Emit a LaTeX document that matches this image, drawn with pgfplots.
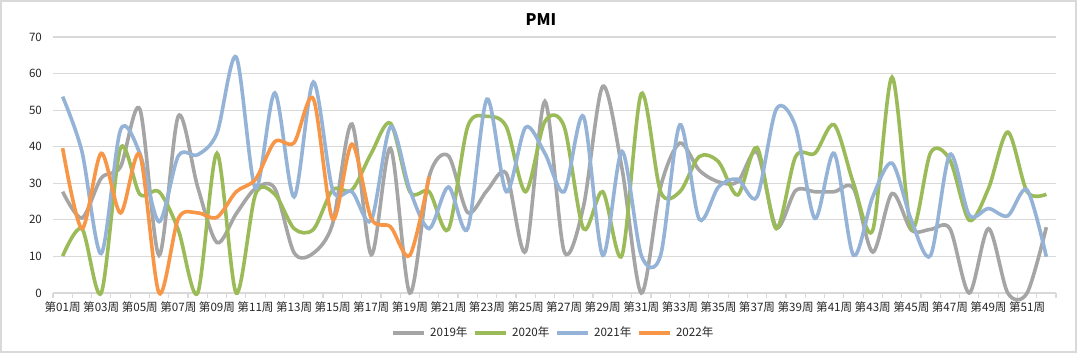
\documentclass[border=0pt]{standalone}
\usepackage{fontspec}
\setmainfont{Noto Sans CJK SC}
\usepackage{pgfplots}
\usepackage{pgfplotstable}
\pgfplotsset{compat=1.18}
\definecolor{c19}{HTML}{A5A5A5}
\definecolor{c20}{HTML}{9BBB59}
\definecolor{c21}{HTML}{95B3D7}
\definecolor{c22}{HTML}{F79646}
\definecolor{gridc}{HTML}{D9D9D9}
\pgfplotstableread{
w a b c
1 27.7 10.1 53.7
2 20.5 17.6 38.7
3 31.4 0 10.8
4 34.5 39.6 44.6
5 50.3 27.0 38.2
6 10.3 27.7 19.5
7 48.4 17.2 37.5
8 29.0 0 37.8
9 13.8 38.2 43.7
10 21.7 0 64.5
11 28.6 27.0 28.6
12 28.6 27.0 54.7
13 11.0 17.6 26.3
14 10.9 17.4 57.7
15 19.0 28.2 28.2
16 46.2 28.2 27.7
17 10.5 38.2 19.9
18 39.6 46.4 45.5
19 0 27.7 28.2
20 31.8 27.7 17.6
21 37.5 17.4 29.0
22 22.0 45.5 17.6
23 28.0 48.3 53.0
24 32.7 45.5 27.7
25 11.4 27.7 45.3
26 52.4 46.9 38.2
27 11.4 45.5 27.7
28 23.6 17.6 48.3
29 56.5 27.7 10.3
30 34.0 10.3 38.7
31 0 54.5 10.3
32 29.0 27.7 10.3
33 41.0 27.7 46.0
34 33.6 37.3 20.2
35 30.4 35.9 29.0
36 30.4 26.8 31.1
37 38.5 39.8 26.3
38 18.0 17.6 50.3
39 28.0 37.3 45.5
40 27.7 38.2 20.4
41 27.7 46.0 38.2
42 28.6 30.0 10.3
43 11.2 17.2 26.3
44 27.2 59.0 35.5
45 17.2 17.6 19.9
46 17.4 38.4 10.3
47 17.6 36.4 37.9
48 0 19.9 21.3
49 17.6 28.6 23.1
50 0 44.0 21.1
51 0 27.7 28.2
52 18.0 27.0 9.9
}\datatable
\pgfplotstableread{
w d
1 39.6
2 17.6
3 38.2
4 21.9
5 37.8
6 0
7 20.4
8 21.9
9 20.7
10 27.7
11 31.1
12 41.4
13 41.1
14 53.1
15 20.2
16 40.7
17 20.4
18 18.1
19 10.3
20 31.8
}\datatableb
\begin{document}
\begin{tikzpicture}[x=1pt,y=1pt]
\useasboundingbox (0,0) rectangle (540,177);
\draw[color=gridc, line width=0.6pt] (0.5,1) rectangle (538,176.5);
\node[font=\bfseries\fontsize{8}{9}\selectfont] at (270.5,167) {PMI};
\begin{axis}[
  at={(26.5pt,30.5pt)}, anchor=south west,
  scale only axis, width=501.5pt, height=128pt,
  xmin=0.5, xmax=52.5, ymin=0, ymax=70,
  clip=false,
  ytick={0,10,...,70},
  xtick={1,3,...,51},
  xticklabels={第01周,第03周,第05周,第07周,第09周,第11周,第13周,第15周,第17周,第19周,第21周,第23周,第25周,第27周,第29周,第31周,第33周,第35周,第37周,第39周,第41周,第43周,第45周,第47周,第49周,第51周},
  minor xtick={0.5,1.5,...,52.5},
  tick align=outside,
  major tick length=0pt,
  minor tick length=2.5pt,
  minor x tick style={draw=gridc, line width=0.6pt},
  xtick style={draw=none},
  ytick style={draw=none},
  ymajorgrids,
  grid style={draw=gridc, line width=0.6pt},
  axis x line*=bottom,
  axis y line*=left,
  x axis line style={draw=gridc, line width=0.6pt, -},
  y axis line style={draw=none},
  tick label style={font=\fontsize{5.8}{6.5}\selectfont, text=black!85},
  /pgf/number format/assume math mode=true,
  xticklabel style={yshift=-1pt},
  yticklabel style={xshift=-2pt},
  legend style={at={(0.5,-0.156)}, anchor=center, draw=none, fill=none,
    legend columns=4, font=\fontsize{5.8}{6.5}\selectfont, text=black!85,
    /tikz/every even column/.append style={column sep=1pt}},
  legend image code/.code={\draw[#1] (0pt,0pt) -- (15.5pt,0pt);},
  every axis plot/.append style={line width=1.8pt, smooth, tension=0.5, no markers},
]
\addplot[color=c19] table[x=w, y=a] {\datatable};
\addlegendentry{2019年}
\addplot[color=c20] table[x=w, y=b] {\datatable};
\addlegendentry{2020年}
\addplot[color=c21] table[x=w, y=c] {\datatable};
\addlegendentry{2021年}
\addplot[color=c22] table[x=w, y=d] {\datatableb};
\addlegendentry{2022年}
\end{axis}
\end{tikzpicture}
\end{document}
